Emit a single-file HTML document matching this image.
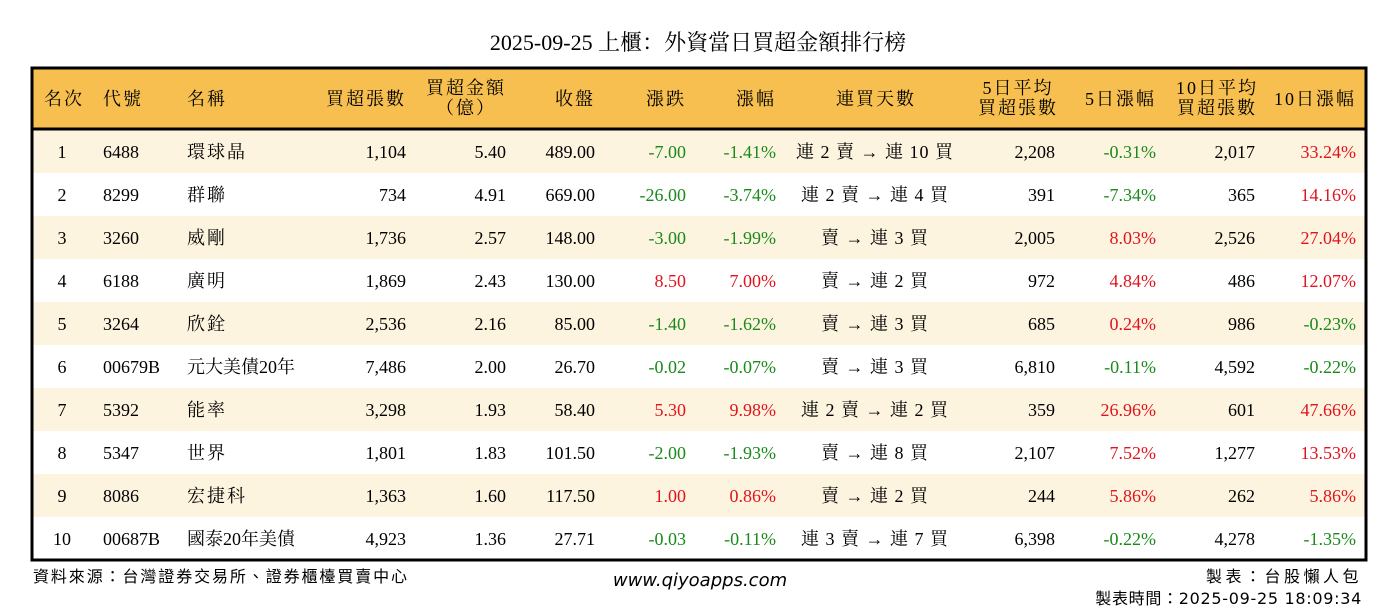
<!DOCTYPE html>
<html><head><meta charset="utf-8"><style>
html,body{margin:0;padding:0;background:#fff;}
svg{display:block}
text{font-family:"Liberation Serif","Noto Serif CJK SC",serif;font-size:18px;fill:#000}
.h{letter-spacing:2px}
.k{letter-spacing:1px}
.g{fill:#1a8a1a}.r{fill:#e0141e}
.m{text-anchor:middle}.e{text-anchor:end}
</style></head><body>
<svg width="1398" height="612" xmlns="http://www.w3.org/2000/svg">
<text x="698" y="50" class="m" style="font-size:22px">2025-09-25 上櫃：外資當日買超金額排行榜</text>
<rect x="32" y="68" width="1334" height="61" fill="#F6BF4F"/>
<g id="rows">
<rect x="32" y="130" width="1334" height="43" fill="#FDF4DF"/>
<rect x="32" y="216" width="1334" height="43" fill="#FDF4DF"/>
<rect x="32" y="302" width="1334" height="43" fill="#FDF4DF"/>
<rect x="32" y="388" width="1334" height="43" fill="#FDF4DF"/>
<rect x="32" y="474" width="1334" height="43" fill="#FDF4DF"/>
</g>
<line x1="32" y1="129" x2="1366" y2="129" stroke="#000" stroke-width="3"/>
<rect x="32" y="68" width="1334" height="492" fill="none" stroke="#000" stroke-width="3"/>
<g class="h">
<text x="64" y="105" class="m">名次</text>
<text x="103" y="105">代號</text>
<text x="187" y="105">名稱</text>
<text x="406" y="105" class="e">買超張數</text>
<text x="466" y="94" class="m">買超金額</text>
<text x="466" y="114" class="m">（億）</text>
<text x="595" y="105" class="e">收盤</text>
<text x="686" y="105" class="e">漲跌</text>
<text x="776" y="105" class="e">漲幅</text>
<text x="876" y="105" class="m">連買天數</text>
<text x="1018" y="94" class="m">5日平均</text>
<text x="1018" y="114" class="m">買超張數</text>
<text x="1156" y="105" class="e">5日漲幅</text>
<text x="1217" y="94" class="m">10日平均</text>
<text x="1217" y="114" class="m">買超張數</text>
<text x="1356" y="105" class="e">10日漲幅</text>
</g>
<g>
<text x="62" y="158" class="m">1</text><text x="103" y="158">6488</text><text x="187" y="158" class="h">環球晶</text><text x="406" y="158" class="e">1,104</text><text x="506" y="158" class="e">5.40</text><text x="595" y="158" class="e">489.00</text><text x="686" y="158" class="e g">-7.00</text><text x="776" y="158" class="e g">-1.41%</text><text x="875" y="158" class="m k">連 2 賣 → 連 10 買</text><text x="1055" y="158" class="e">2,208</text><text x="1156" y="158" class="e g">-0.31%</text><text x="1255" y="158" class="e">2,017</text><text x="1356" y="158" class="e r">33.24%</text>
<text x="62" y="201" class="m">2</text><text x="103" y="201">8299</text><text x="187" y="201" class="h">群聯</text><text x="406" y="201" class="e">734</text><text x="506" y="201" class="e">4.91</text><text x="595" y="201" class="e">669.00</text><text x="686" y="201" class="e g">-26.00</text><text x="776" y="201" class="e g">-3.74%</text><text x="875" y="201" class="m k">連 2 賣 → 連 4 買</text><text x="1055" y="201" class="e">391</text><text x="1156" y="201" class="e g">-7.34%</text><text x="1255" y="201" class="e">365</text><text x="1356" y="201" class="e r">14.16%</text>
<text x="62" y="244" class="m">3</text><text x="103" y="244">3260</text><text x="187" y="244" class="h">威剛</text><text x="406" y="244" class="e">1,736</text><text x="506" y="244" class="e">2.57</text><text x="595" y="244" class="e">148.00</text><text x="686" y="244" class="e g">-3.00</text><text x="776" y="244" class="e g">-1.99%</text><text x="875" y="244" class="m k">賣 → 連 3 買</text><text x="1055" y="244" class="e">2,005</text><text x="1156" y="244" class="e r">8.03%</text><text x="1255" y="244" class="e">2,526</text><text x="1356" y="244" class="e r">27.04%</text>
<text x="62" y="287" class="m">4</text><text x="103" y="287">6188</text><text x="187" y="287" class="h">廣明</text><text x="406" y="287" class="e">1,869</text><text x="506" y="287" class="e">2.43</text><text x="595" y="287" class="e">130.00</text><text x="686" y="287" class="e r">8.50</text><text x="776" y="287" class="e r">7.00%</text><text x="875" y="287" class="m k">賣 → 連 2 買</text><text x="1055" y="287" class="e">972</text><text x="1156" y="287" class="e r">4.84%</text><text x="1255" y="287" class="e">486</text><text x="1356" y="287" class="e r">12.07%</text>
<text x="62" y="330" class="m">5</text><text x="103" y="330">3264</text><text x="187" y="330" class="h">欣銓</text><text x="406" y="330" class="e">2,536</text><text x="506" y="330" class="e">2.16</text><text x="595" y="330" class="e">85.00</text><text x="686" y="330" class="e g">-1.40</text><text x="776" y="330" class="e g">-1.62%</text><text x="875" y="330" class="m k">賣 → 連 3 買</text><text x="1055" y="330" class="e">685</text><text x="1156" y="330" class="e r">0.24%</text><text x="1255" y="330" class="e">986</text><text x="1356" y="330" class="e g">-0.23%</text>
<text x="62" y="373" class="m">6</text><text x="103" y="373">00679B</text><text x="187" y="373">元大美債20年</text><text x="406" y="373" class="e">7,486</text><text x="506" y="373" class="e">2.00</text><text x="595" y="373" class="e">26.70</text><text x="686" y="373" class="e g">-0.02</text><text x="776" y="373" class="e g">-0.07%</text><text x="875" y="373" class="m k">賣 → 連 3 買</text><text x="1055" y="373" class="e">6,810</text><text x="1156" y="373" class="e g">-0.11%</text><text x="1255" y="373" class="e">4,592</text><text x="1356" y="373" class="e g">-0.22%</text>
<text x="62" y="416" class="m">7</text><text x="103" y="416">5392</text><text x="187" y="416" class="h">能率</text><text x="406" y="416" class="e">3,298</text><text x="506" y="416" class="e">1.93</text><text x="595" y="416" class="e">58.40</text><text x="686" y="416" class="e r">5.30</text><text x="776" y="416" class="e r">9.98%</text><text x="875" y="416" class="m k">連 2 賣 → 連 2 買</text><text x="1055" y="416" class="e">359</text><text x="1156" y="416" class="e r">26.96%</text><text x="1255" y="416" class="e">601</text><text x="1356" y="416" class="e r">47.66%</text>
<text x="62" y="459" class="m">8</text><text x="103" y="459">5347</text><text x="187" y="459" class="h">世界</text><text x="406" y="459" class="e">1,801</text><text x="506" y="459" class="e">1.83</text><text x="595" y="459" class="e">101.50</text><text x="686" y="459" class="e g">-2.00</text><text x="776" y="459" class="e g">-1.93%</text><text x="875" y="459" class="m k">賣 → 連 8 買</text><text x="1055" y="459" class="e">2,107</text><text x="1156" y="459" class="e r">7.52%</text><text x="1255" y="459" class="e">1,277</text><text x="1356" y="459" class="e r">13.53%</text>
<text x="62" y="502" class="m">9</text><text x="103" y="502">8086</text><text x="187" y="502" class="h">宏捷科</text><text x="406" y="502" class="e">1,363</text><text x="506" y="502" class="e">1.60</text><text x="595" y="502" class="e">117.50</text><text x="686" y="502" class="e r">1.00</text><text x="776" y="502" class="e r">0.86%</text><text x="875" y="502" class="m k">賣 → 連 2 買</text><text x="1055" y="502" class="e">244</text><text x="1156" y="502" class="e r">5.86%</text><text x="1255" y="502" class="e">262</text><text x="1356" y="502" class="e r">5.86%</text>
<text x="62" y="545" class="m">10</text><text x="103" y="545">00687B</text><text x="187" y="545">國泰20年美債</text><text x="406" y="545" class="e">4,923</text><text x="506" y="545" class="e">1.36</text><text x="595" y="545" class="e">27.71</text><text x="686" y="545" class="e g">-0.03</text><text x="776" y="545" class="e g">-0.11%</text><text x="875" y="545" class="m k">連 3 賣 → 連 7 買</text><text x="1055" y="545" class="e">6,398</text><text x="1156" y="545" class="e g">-0.22%</text><text x="1255" y="545" class="e">4,278</text><text x="1356" y="545" class="e g">-1.35%</text>
</g>
<text x="33" y="582" style="font-family:'Liberation Sans','Noto Sans CJK TC',sans-serif;font-size:16px;letter-spacing:1.9px">資料來源：台灣證券交易所、證券櫃檯買賣中心</text>
<text x="700" y="586" class="m" style="font-family:'DejaVu Sans','Liberation Sans',sans-serif;font-size:18px;font-style:italic">www.qiyoapps.com</text>
<text x="1362" y="582" class="e" style="font-family:'DejaVu Sans','Noto Sans CJK TC',sans-serif;font-size:16px;letter-spacing:3.5px">製表：台股懶人包</text>
<text x="1362" y="604" class="e" style="font-family:'DejaVu Sans','Noto Sans CJK TC',sans-serif;font-size:16px;letter-spacing:0.7px">製表時間：2025-09-25 18:09:34</text>
</svg>
</body></html>
